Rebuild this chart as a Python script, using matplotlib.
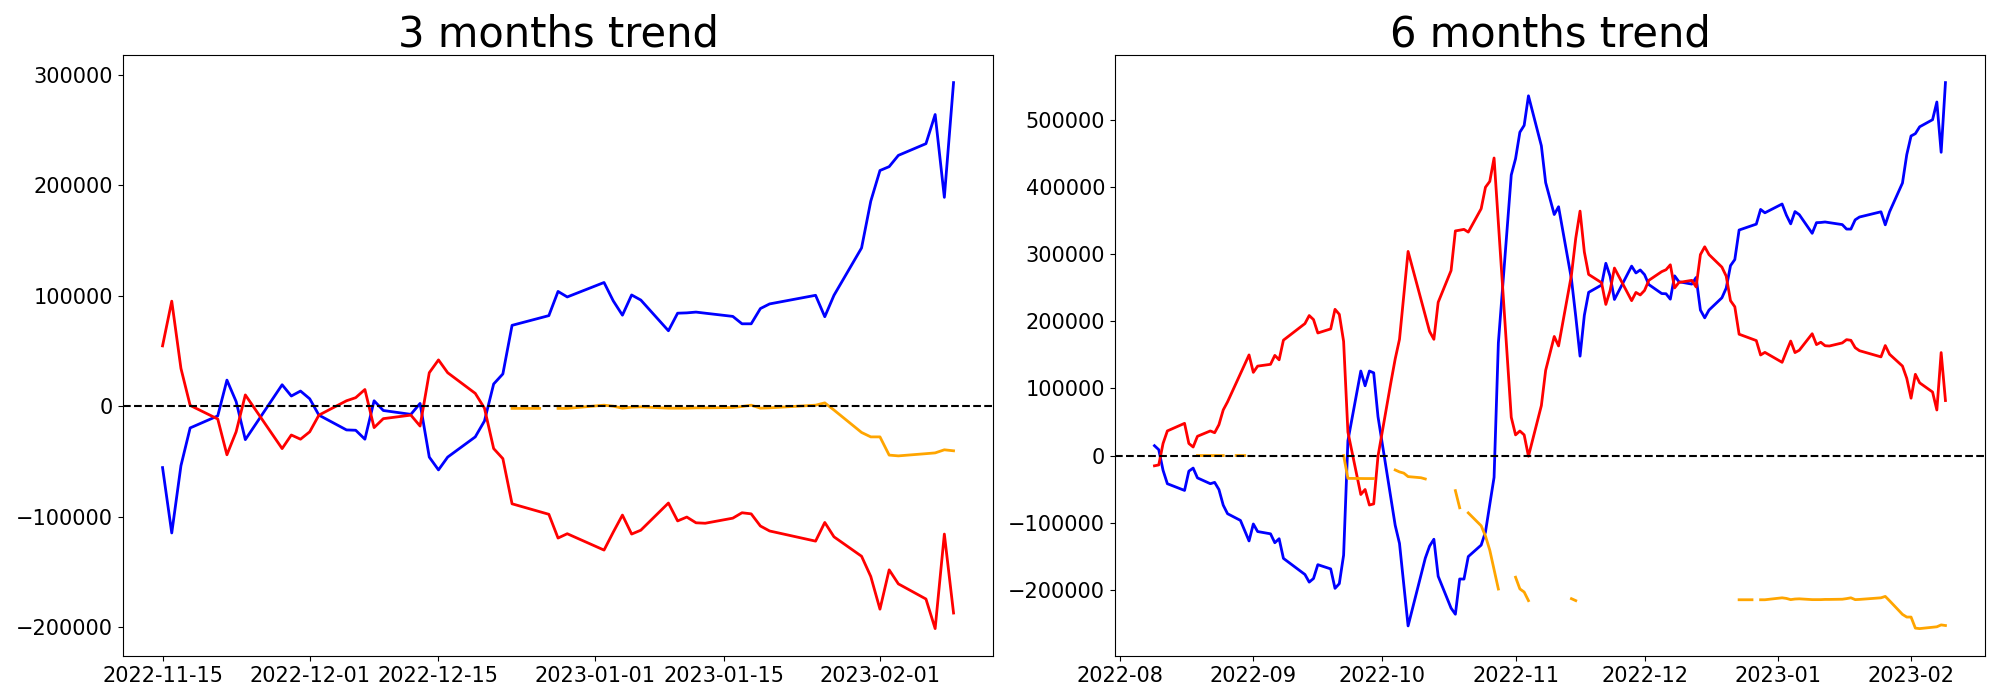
import numpy as np
import pandas as pd
import matplotlib
matplotlib.use("Agg")
import matplotlib.pyplot as plt

# ---- 3 months window ----
dates3 = [
    "2022-11-15", "2022-11-16", "2022-11-17", "2022-11-18", "2022-11-21", "2022-11-22",
    "2022-11-23", "2022-11-24", "2022-11-28", "2022-11-29", "2022-11-30",
    "2022-12-01", "2022-12-02", "2022-12-05", "2022-12-06", "2022-12-07", "2022-12-08",
    "2022-12-09", "2022-12-12", "2022-12-13", "2022-12-14", "2022-12-15", "2022-12-16",
    "2022-12-19", "2022-12-20", "2022-12-21", "2022-12-22", "2022-12-23", "2022-12-26",
    "2022-12-27", "2022-12-28", "2022-12-29",
    "2023-01-02", "2023-01-03", "2023-01-04", "2023-01-05", "2023-01-06", "2023-01-09",
    "2023-01-10", "2023-01-11", "2023-01-12", "2023-01-13", "2023-01-16", "2023-01-17",
    "2023-01-18", "2023-01-19", "2023-01-20", "2023-01-25", "2023-01-26", "2023-01-27",
    "2023-01-30", "2023-01-31",
    "2023-02-01", "2023-02-02", "2023-02-03", "2023-02-06", "2023-02-07", "2023-02-08",
    "2023-02-09",
]
red3 = [
    54600, 95100, 34200, 700, -11600, -44000, -23200, 10200, -38400, -26100, -29900,
    -23200, -8100, 4900, 7700, 15100, -19400, -11300, -8100, -18000, 30300, 41900, 30300,
    11600, -1800, -38400, -47500, -88400, None, -97900, -119400, -115500,
    -130300, -114100, -98600, -115800, -112300, -87700, -103900, -100400, -105600, -106000,
    -101400, -96500, -97500, -108500, -113000, -122200, -105300, -118300, -135900, -154200,
    -183800, -148200, -160900, -174600, -201400, -115800, -187300,
]
blue3 = [
    -55600, -114800, -53900, -19700, -8800, 23600, 4200, -30300, 19400, 9200, 13700,
    6700, -8100, -21500, -21800, -29900, 4900, -3900, -7400, 2500, -46100, -57700, -46100,
    -27800, -13400, 20100, 29200, 73200, None, 82000, 103900, 98900,
    112000, 95400, 82400, 100700, 96100, 68300, 84200, 84500, 85200, 84200,
    81300, 74600, 74600, 88400, 92600, 100400, 81000, 100400, 143300, 185600,
    213400, 216900, 227100, 237700, 264100, 189100, 293000,
]
orange3 = [
    None, None, None, None, None, None, None, None, None, None, None,
    None, None, None, None, None, None, None, None, None, None, None, None,
    None, None, None, None, -2000, -2000, None, -2000, -2000,
    900, 0, -1800, -900, -600, -1800, -1800, -1800, -1500, -1500,
    -1200, -300, 900, -1800, -1500, 900, 3000, -3500, -23800, -27800,
    -27800, -44300, -45000, -43000, -42300, -39500, -40400,
]

# ---- 6 months window ----
dates6 = [
    "2022-08-09", "2022-08-10", "2022-08-11", "2022-08-12", "2022-08-16", "2022-08-17",
    "2022-08-18", "2022-08-19", "2022-08-22", "2022-08-23", "2022-08-24", "2022-08-25",
    "2022-08-26", "2022-08-28", "2022-08-29", "2022-08-30", "2022-08-31",
    "2022-09-01", "2022-09-02", "2022-09-05", "2022-09-06", "2022-09-07", "2022-09-08",
    "2022-09-09", "2022-09-12", "2022-09-13", "2022-09-14", "2022-09-15", "2022-09-16",
    "2022-09-19", "2022-09-20", "2022-09-21", "2022-09-22", "2022-09-23", "2022-09-26",
    "2022-09-27", "2022-09-28", "2022-09-29", "2022-09-30",
    "2022-10-03", "2022-10-04", "2022-10-05", "2022-10-06", "2022-10-07", "2022-10-10",
    "2022-10-11", "2022-10-12", "2022-10-13", "2022-10-14", "2022-10-17", "2022-10-18",
    "2022-10-19", "2022-10-20", "2022-10-21", "2022-10-24", "2022-10-25", "2022-10-26",
    "2022-10-27", "2022-10-28", "2022-10-31",
    "2022-11-01", "2022-11-02", "2022-11-03", "2022-11-04", "2022-11-07", "2022-11-08",
    "2022-11-09", "2022-11-10", "2022-11-11", "2022-11-14", "2022-11-15", "2022-11-16",
    "2022-11-17", "2022-11-18", "2022-11-21", "2022-11-22", "2022-11-23", "2022-11-24",
    "2022-11-28", "2022-11-29", "2022-11-30",
    "2022-12-01", "2022-12-02", "2022-12-05", "2022-12-06", "2022-12-07", "2022-12-08",
    "2022-12-09", "2022-12-12", "2022-12-13", "2022-12-14", "2022-12-15", "2022-12-16",
    "2022-12-19", "2022-12-20", "2022-12-21", "2022-12-22", "2022-12-23", "2022-12-26",
    "2022-12-27", "2022-12-28", "2022-12-29",
    "2023-01-02", "2023-01-03", "2023-01-04", "2023-01-05", "2023-01-06", "2023-01-09",
    "2023-01-10", "2023-01-11", "2023-01-12", "2023-01-13", "2023-01-16", "2023-01-17",
    "2023-01-18", "2023-01-19", "2023-01-20", "2023-01-25", "2023-01-26", "2023-01-27",
    "2023-01-30", "2023-01-31",
    "2023-02-01", "2023-02-02", "2023-02-03", "2023-02-06", "2023-02-07", "2023-02-08",
    "2023-02-09",
]
red6 = [
    # Aug
    -15300, -14000, 18000, 36700, 48000, 18000, 12700, 28700, 36700, 34000, 46000, 68000,
    80000, None, None, None, 150000,
    # Sep
    124000, 133300, 136000, 149300, 142700, 172000, None, None, 196700, 208700, 202700,
    182700, 188800, 218000, 210500, 170200, 35000, -58100, -50600, -73800, -72100, -1000,
    # Oct
    109000, 144000, 173300, None, 304300, None, None, 185000, 173300, 228500, 275800,
    334900, 336000, 337200, 333100, 368000, 400000, 408700, 443600, None, 57000,
    # Nov
    30800, 36600, 30800, -1000, 74400, 127000, None, 177500, 163400, 269300, 323900,
    364400, 303500, 270000, 257700, 225300, 246100, 279500, 230900, 243200, 239400,
    # Dec
    246100, 261200, 274200, 277000, 284400, 249900, 258000, 261200, 251300, 299600,
    311200, 299600, 280900, 267500, 230900, 221800, 180900, None, 171400, 149900, 153800,
    # Jan
    139000, 155200, 170700, 153500, 157000, 181600, 165400, 168900, 163700, 163300,
    167900, 172800, 171800, 160800, 156300, 147100, 164000, 151000, 133400, 115100,
    # Feb
    85500, 121100, 108400, 94700, 67900, 153500, 82000,
]
blue6 = [
    # Aug
    14700, 8700, -22000, -42000, -52000, -23300, -18700, -33300, -42000, -40000, -50700,
    -74000, -86700, None, -96700, None, -127300,
    # Sep
    -102000, -113300, -116700, -130000, -124000, -153300, None, None, -177300, -188700,
    -183300, -162700, -169000, -198000, -191000, -148500, 22000, 126000, 104000, 126000,
    123300, 58000,
    # Oct
    None, -104000, -131000, None, -254000, None, -153000, -135000, -124800, -180000,
    -227500, -236600, -184000, -184200, -150600, -133500, -114000, -73000, -32500,
    168000, 418300,
    # Nov
    442600, 482000, 492200, 536300, 461800, 406900, None, 359300, 370900, 263000, 207400,
    148200, 209100, 243300, 254200, 286600, 267200, 232700, 282400, 272200, 276700,
    # Dec
    269700, 254900, 241500, 241200, 233100, 267900, 259100, 255600, 265500, 216900,
    205300, 216900, 235200, 249600, 283100, 292200, 336200, None, 345000, 366900, 361900,
    # Jan
    375000, 358400, 345400, 363700, 359100, 331300, 347200, 347500, 348200, 347200,
    344300, 337600, 337600, 351400, 355600, 363400, 344000, 363400, 406300, 448600,
    # Feb
    476400, 479900, 490100, 500700, 527100, 452100, 556000,
]
orange6 = [
    # Aug
    None, None, None, None, None, None, None, 0, 0, 0, 0, 0,
    None, 0, 0, 0, None,
    # Sep
    None, None, None, None, None, None, None, None, None, None, None,
    None, None, None, None, 0, -34000, -34300, -34300, -34300, -34300, None,
    # Oct
    None, -21500, -24400, -26200, -31400, -33100, -34900, None, None, None, None,
    -52300, -77900, None, -85500, -104700, -120000, -141000, -170000, -199000, None,
    # Nov
    -181400, -198800, -203500, -216300, None, None, None, None, None, -213400, -216300,
    None, None, None, None, None, None, None, None, None, None,
    # Dec
    None, None, None, None, None, None, None, None, None, None,
    None, None, None, None, None, None, -215000, -215000, None, -215000, -215000,
    # Jan
    -212100, -213000, -214800, -213900, -213600, -214800, -214800, -214800, -214500,
    -214500, -214200, -213300, -212100, -214800, -214500, -212100, -210000, -216500,
    -236800, -240800,
    # Feb
    -240800, -257300, -258000, -256000, -255300, -252500, -253400,
]


def to_arr(values):
    return np.array([np.nan if v is None else v for v in values], dtype=float)


def draw(ax, dates, red, blue, orange, title):
    x = pd.to_datetime(dates)
    r, b, o = to_arr(red), to_arr(blue), to_arr(orange)
    mb = ~np.isnan(b)
    mr = ~np.isnan(r)
    ax.plot(x[mb], b[mb], color="blue", linewidth=2)
    ax.plot(x[mr], r[mr], color="red", linewidth=2)
    ax.plot(x, o, color="orange", linewidth=2)
    ax.axhline(0, color="black", linestyle="--", linewidth=1.5)
    ax.set_title(title, fontsize=30)
    ax.tick_params(labelsize=15)


fig, axes = plt.subplots(1, 2, figsize=(20, 7))
fig.subplots_adjust(left=0.0615, right=0.9925, bottom=0.063, top=0.921, wspace=0.14)

draw(axes[0], dates3, red3, blue3, orange3, "3 months trend")
draw(axes[1], dates6, red6, blue6, orange6, "6 months trend")

fig.savefig("out.png", dpi=100)
